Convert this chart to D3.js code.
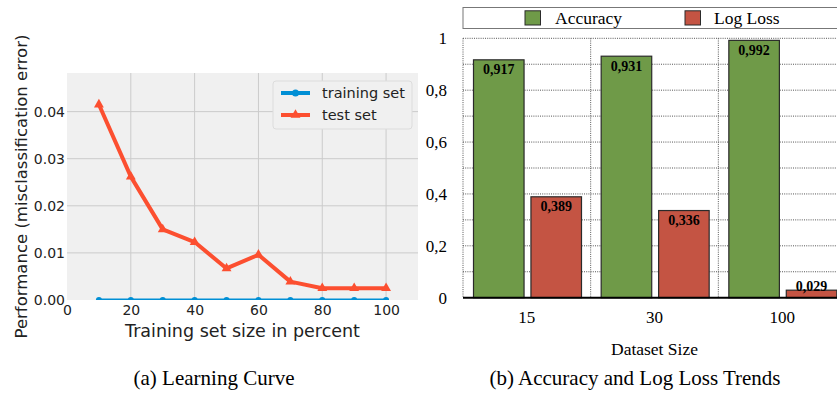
<!DOCTYPE html>
<html>
<head>
<meta charset="utf-8">
<script src="https://cdn.jsdelivr.net/npm/d3@7"></script>
<style>
    body { margin: 0; background: #fff; }
    #chart { width: 837px; height: 394px; overflow: hidden; }
    .lc text { font-family: "DejaVu Sans", sans-serif; fill: #222; }
    .tr text { font-family: "Liberation Serif", "Times New Roman", serif; fill: #000; }
    .caption { font-family: "Liberation Serif", "Times New Roman", serif; font-size: 21px; fill: #000; }
</style>
</head>
<body>
<div id="chart"></div>
<script>

// (a) learning curve
const trainSizes = [10, 20, 30, 40, 50, 60, 70, 80, 90, 100];
const trainError = [0, 0, 0, 0, 0, 0, 0, 0, 0, 0];
const testError = [0.0415, 0.0262, 0.0150, 0.0123, 0.0067, 0.0096, 0.0039, 0.0025, 0.0025, 0.0025];
const lcXTicks = [0, 20, 40, 60, 80, 100];
const lcYTicks = [0, 0.01, 0.02, 0.03, 0.04];

// (b) accuracy / log loss
const datasetSizes = ["15", "30", "100"];
const accuracy = [0.917, 0.931, 0.992];
const logLoss = [0.389, 0.336, 0.029];
const metrics = ["Accuracy", "Log Loss"];
const trYTicks = [0, 0.2, 0.4, 0.6, 0.8, 1];
const trGrid = [0.1, 0.2, 0.3, 0.4, 0.5, 0.6, 0.7, 0.8, 0.9, 1.0];

const svg = d3.select("#chart").append("svg")
    .attr("width", 837)
    .attr("height", 394);

class LearningCurveVis {
    constructor(_svg) {
        this.svg = _svg;
        this.initVis();
    }

    initVis() {
        let vis = this;
        vis.g = vis.svg.append("g").attr("class", "lc");

        vis.left = 67; vis.right = 418; vis.top = 73; vis.bottom = 300;

        vis.x = d3.scaleLinear().domain([0, 110]).range([vis.left, vis.right]);
        vis.y = d3.scaleLinear().domain([0, 0.0482]).range([vis.bottom, vis.top]);

        vis.g.append("rect")
            .attr("x", vis.left).attr("y", vis.top)
            .attr("width", vis.right - vis.left).attr("height", vis.bottom - vis.top)
            .attr("fill", "#f0f0f0");

        // grid
        vis.g.append("g").selectAll("line.vg")
            .data(lcXTicks.slice(1)).enter().append("line")
            .attr("x1", d => vis.x(d)).attr("x2", d => vis.x(d))
            .attr("y1", vis.top).attr("y2", vis.bottom)
            .attr("stroke", "#cbcbcb").attr("stroke-width", 1);
        vis.g.append("g").selectAll("line.hg")
            .data(lcYTicks.slice(1)).enter().append("line")
            .attr("x1", vis.left).attr("x2", vis.right)
            .attr("y1", d => vis.y(d)).attr("y2", d => vis.y(d))
            .attr("stroke", "#cbcbcb").attr("stroke-width", 1);

        // axes
        let xAxis = d3.axisBottom(vis.x).tickValues(lcXTicks).tickSize(0).tickPadding(5);
        let yAxis = d3.axisLeft(vis.y).tickValues(lcYTicks).tickSize(0).tickPadding(2)
            .tickFormat(d3.format(".2f"));

        vis.g.append("g")
            .attr("transform", "translate(0," + vis.bottom + ")")
            .call(xAxis)
            .call(g => g.select(".domain").remove())
            .selectAll("text").attr("font-size", 14).attr("font-family", "DejaVu Sans");
        vis.g.append("g")
            .attr("transform", "translate(" + vis.left + ",0)")
            .call(yAxis)
            .call(g => g.select(".domain").remove())
            .selectAll("text").attr("font-size", 14).attr("font-family", "DejaVu Sans");

        vis.g.append("text")
            .attr("x", (vis.left + vis.right) / 2).attr("y", 337)
            .attr("text-anchor", "middle").attr("font-size", 17.5)
            .text("Training set size in percent");
        vis.g.append("text")
            .attr("transform", "translate(27," + ((vis.top + vis.bottom) / 2) + ") rotate(-90)")
            .attr("text-anchor", "middle").attr("font-size", 16.5)
            .text("Performance (misclassification error)");

        vis.g.append("clipPath").attr("id", "lc-clip")
            .append("rect")
            .attr("x", vis.left).attr("y", vis.top)
            .attr("width", vis.right - vis.left).attr("height", vis.bottom - vis.top);

        let plot = vis.g.append("g").attr("clip-path", "url(#lc-clip)");
        let line = d3.line().x((d, i) => vis.x(trainSizes[i])).y(d => vis.y(d));

        plot.append("path").datum(trainError)
            .attr("d", line).attr("fill", "none")
            .attr("stroke", "#008fd5").attr("stroke-width", 3);
        plot.selectAll(".trainDot").data(trainError).enter().append("circle")
            .attr("cx", (d, i) => vis.x(trainSizes[i])).attr("cy", d => vis.y(d))
            .attr("r", 3).attr("fill", "#008fd5");

        plot.append("path").datum(testError)
            .attr("d", line).attr("fill", "none")
            .attr("stroke", "#fc4f30").attr("stroke-width", 4)
            .attr("stroke-linejoin", "round");
        let tri = d3.symbol().type(d3.symbolTriangle).size(42);
        plot.selectAll(".testDot").data(testError).enter().append("path")
            .attr("d", tri)
            .attr("transform", (d, i) => "translate(" + vis.x(trainSizes[i]) + "," + vis.y(d) + ")")
            .attr("fill", "#fc4f30");

        // legend
        let lg = vis.g.append("g");
        lg.append("rect")
            .attr("x", 273).attr("y", 81).attr("width", 139).attr("height", 48).attr("rx", 3)
            .attr("fill", "#f0f0f0").attr("stroke", "#dcdcdc");
        let items = [
            {label: "training set", color: "#008fd5", y: 93, sym: "circle"},
            {label: "test set", color: "#fc4f30", y: 115, sym: "tri"}
        ];
        items.forEach(it => {
            lg.append("line")
                .attr("x1", 281).attr("x2", 310).attr("y1", it.y).attr("y2", it.y)
                .attr("stroke", it.color).attr("stroke-width", 4);
            if (it.sym === "circle") {
                lg.append("circle").attr("cx", 295.5).attr("cy", it.y).attr("r", 3.5).attr("fill", it.color);
            } else {
                lg.append("path").attr("d", tri)
                    .attr("transform", "translate(295.5," + it.y + ")").attr("fill", it.color);
            }
            lg.append("text")
                .attr("x", 322).attr("y", it.y).attr("dy", "0.35em")
                .attr("font-size", 14.5).text(it.label);
        });

        vis.svg.append("text").attr("class", "caption")
            .attr("x", 214).attr("y", 385).attr("text-anchor", "middle")
            .text("(a) Learning Curve");
    }
}

class TrendsVis {
    constructor(_svg) {
        this.svg = _svg;
        this.initVis();
    }

    initVis() {
        let vis = this;
        vis.g = vis.svg.append("g").attr("class", "tr");

        vis.left = 463; vis.right = 846; vis.top = 38.3; vis.bottom = 297.7;
        vis.colors = {"Accuracy": "#6f9a48", "Log Loss": "#c45443"};

        vis.x0 = d3.scaleBand().domain(datasetSizes).range([vis.left, vis.right]).padding(0);
        vis.x1 = d3.scaleBand().domain(metrics).range([10.5, 118.5]).paddingInner(0.12).paddingOuter(0);
        vis.y = d3.scaleLinear().domain([0, 1]).range([vis.bottom, vis.top]);

        let fmt = d => (d === 0 || d === 1) ? String(d) : d.toFixed(1).replace(".", ",");

        // dotted grid
        vis.g.append("g").selectAll("line")
            .data(trGrid).enter().append("line")
            .attr("x1", vis.left).attr("x2", vis.right)
            .attr("y1", d => vis.y(d)).attr("y2", d => vis.y(d))
            .attr("stroke", "#555").attr("stroke-width", 1).attr("stroke-dasharray", "1,1.2");
        vis.g.append("g").selectAll("line")
            .data(datasetSizes.concat(["end"])).enter().append("line")
            .attr("x1", d => d === "end" ? vis.right : vis.x0(d))
            .attr("x2", d => d === "end" ? vis.right : vis.x0(d))
            .attr("y1", vis.top).attr("y2", vis.bottom)
            .attr("stroke", "#555").attr("stroke-width", 1).attr("stroke-dasharray", "1,1.2");

        // bars
        let rows = datasetSizes.map((s, i) => ({size: s, values: [
            {metric: "Accuracy", value: accuracy[i]},
            {metric: "Log Loss", value: logLoss[i]}
        ]}));

        let groups = vis.g.selectAll(".grp").data(rows).enter().append("g")
            .attr("class", "grp")
            .attr("transform", d => "translate(" + vis.x0(d.size) + ",0)");

        groups.selectAll("rect").data(d => d.values).enter().append("rect")
            .attr("x", d => vis.x1(d.metric))
            .attr("y", d => vis.y(d.value))
            .attr("width", vis.x1.bandwidth())
            .attr("height", d => vis.bottom - vis.y(d.value))
            .attr("fill", d => vis.colors[d.metric])
            .attr("stroke", "#2a2a2a").attr("stroke-width", 1.2);

        groups.selectAll("text").data(d => d.values).enter().append("text")
            .attr("x", d => vis.x1(d.metric) + vis.x1.bandwidth() / 2)
            .attr("y", d => Math.min(vis.y(d.value) + 14.5, vis.bottom - 6.5))
            .attr("text-anchor", "middle")
            .attr("font-size", 14).attr("font-weight", "bold")
            .text(d => d.value.toFixed(3).replace(".", ","));

        // axis line at zero
        vis.g.append("line")
            .attr("x1", vis.left).attr("x2", vis.right)
            .attr("y1", vis.bottom).attr("y2", vis.bottom)
            .attr("stroke", "#000").attr("stroke-width", 2);

        let yAxis = d3.axisLeft(vis.y).tickValues(trYTicks).tickSize(0).tickPadding(16).tickFormat(fmt);
        vis.g.append("g")
            .attr("transform", "translate(" + vis.left + ",0)")
            .call(yAxis)
            .call(g => g.select(".domain").remove())
            .selectAll("text").attr("font-size", 17).attr("font-family", "Liberation Serif");

        let xAxis = d3.axisBottom(vis.x0).tickSize(0).tickPadding(13);
        vis.g.append("g")
            .attr("transform", "translate(0," + vis.bottom + ")")
            .call(xAxis)
            .call(g => g.select(".domain").remove())
            .selectAll("text").attr("font-size", 17).attr("font-family", "Liberation Serif");

        vis.g.append("text")
            .attr("x", (vis.left + vis.right) / 2).attr("y", 355)
            .attr("text-anchor", "middle").attr("font-size", 17.5)
            .text("Dataset Size");

        // legend
        let lg = vis.g.append("g");
        lg.append("rect")
            .attr("x", 463).attr("y", 7.5).attr("width", 390).attr("height", 21)
            .attr("fill", "#fff").attr("stroke", "#777").attr("stroke-width", 1);
        let lx = [{m: "Accuracy", box: 525, text: 555}, {m: "Log Loss", box: 685, text: 714}];
        lx.forEach(it => {
            lg.append("rect")
                .attr("x", it.box).attr("y", 10.8).attr("width", 15.5).attr("height", 14.2)
                .attr("fill", vis.colors[it.m]).attr("stroke", "#2a2a2a").attr("stroke-width", 1);
            lg.append("text")
                .attr("x", it.text).attr("y", 24)
                .attr("font-size", 17.5).text(it.m);
        });

        vis.svg.append("text").attr("class", "caption")
            .attr("x", 635).attr("y", 385).attr("text-anchor", "middle")
            .text("(b) Accuracy and Log Loss Trends");
    }
}

new LearningCurveVis(svg);
new TrendsVis(svg);

</script>
</body>
</html>
